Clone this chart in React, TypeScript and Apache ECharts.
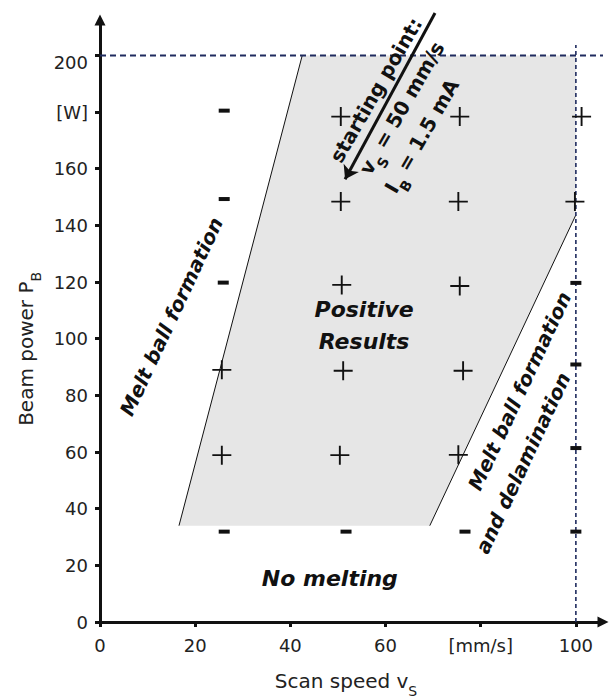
import React, { useEffect, useRef } from "react";
import * as echarts from "echarts";

// ---- axis ticks / labels ----
const xTicks = [0, 20, 40, 60, 80, 100];
const xTickLabels = ["0", "20", "40", "60", "[mm/s]", "100"];
const yTicks = [0, 20, 40, 60, 80, 100, 120, 140, 160, 180, 200];
const yTickLabels = ["0", "20", "40", "60", "80", "100", "120", "140", "160", "[W]", "200"];
const X_MAX = 105.7;
const Y_MAX = 212.5;

// ---- experimental results (scan speed mm/s, beam power W) ----
const plusX = [50.6, 75.6, 101.2, 50.6, 75.3, 99.8, 50.8, 75.6, 25.6, 51.1, 76.3, 25.6, 50.4, 75.3];
const plusY = [178.4, 178.4, 178.4, 148.4, 148.4, 148.4, 119.0, 118.6, 89.0, 88.7, 88.7, 58.9, 58.9, 59.0];
const minusX = [26.1, 26.1, 25.9, 100, 100, 100, 26.1, 51.7, 76.7, 100];
const minusY = [180.5, 149.3, 119.8, 119.7, 90.9, 61.4, 31.9, 31.9, 31.9, 31.9];

// ---- positive-results region ----
const regionX = [16.6, 42.5, 100, 100, 69.3];
const regionY = [34, 200, 200, 143.7, 34];
const leftBoundX = [16.6, 42.5];
const leftBoundY = [34, 200];
const rightBoundX = [69.3, 100];
const rightBoundY = [34, 143.7];

// ---- limits (dashed) ----
const powerLimit = 200;
const speedLimit = 100;
const hLimitX = [0, 105.7];
const vLimitY = [0, 203.7];

// ---- starting-point arrow ----
const arrowX = [70.4, 51.5];
const arrowY = [215, 156.3];

// ---- annotations ----
const annText = [
  "Melt ball formation",
  "Melt ball formation",
  "and delamination",
  "starting point:",
  "{t|v}{s|S}{t| = 50 mm/s}",
  "{t|I}{s|B}{t| = 1.5 mA}",
  "Positive\nResults",
  "No melting",
  "{n|Beam power P}{ns|B}",
  "{n|Scan speed v}{ns|S}",
];
const annX = [15.0, 88.2, 88.9, 58.0, 63.4, 67.6, 55.5, 48.3, -15.5, 51.7];
const annY = [107.8, 81.5, 56.1, 187.8, 181.4, 171.5, 104.5, 15.2, 96.4, -20.8];
const annRot = [65, 65, 65, 60, 60, 60, 0, 0, 90, 0];
const annSize = [20, 20, 20, 20, 20, 20, 22, 22, 20, 20];
const annKind = ["bi", "bi", "bi", "b", "b", "b", "bi", "bi", "n", "n"];

const FONT = "DejaVu Sans";
const INK = "#111";
const NAVY = "#1f2b5e";

function buildOption() {
  const plusPath = "path://M9 0h2v9h9v2h-9v9h-2v-9h-9v-2h9z";
  return {
    animation: false,
    backgroundColor: "#fff",
    grid: { left: 100, right: 6, top: 20, bottom: 77, containLabel: false },
    xAxis: {
      type: "value",
      min: 0,
      max: X_MAX,
      splitLine: { show: false },
      axisLine: {
        show: true,
        onZero: false,
        symbol: ["none", "triangle"],
        symbolSize: [11, 11],
        lineStyle: { color: INK, width: 3 },
      },
      axisTick: {
        show: true,
        customValues: xTicks,
        length: 5,
        lineStyle: { color: INK, width: 3 },
      },
      axisLabel: {
        customValues: xTicks,
        margin: 14,
        fontFamily: FONT,
        fontSize: 18,
        color: "#222",
        formatter: (v: number) => {
          const i = xTicks.indexOf(Math.round(v));
          return i >= 0 ? xTickLabels[i] : "";
        },
      },
    },
    yAxis: {
      type: "value",
      min: 0,
      max: Y_MAX,
      splitLine: { show: false },
      axisLine: {
        show: true,
        onZero: false,
        symbol: ["none", "triangle"],
        symbolSize: [11, 11],
        lineStyle: { color: INK, width: 3 },
      },
      axisTick: {
        show: true,
        customValues: yTicks,
        length: 5,
        lineStyle: { color: INK, width: 3 },
      },
      axisLabel: {
        customValues: yTicks,
        margin: 12,
        fontFamily: FONT,
        fontSize: 18,
        color: "#222",
        formatter: (v: number) => {
          const i = yTicks.indexOf(Math.round(v));
          if (i < 0) return "";
          if (yTicks[i] === 200) return "{d|200}";
          return yTickLabels[i];
        },
        rich: {
          d: { fontFamily: FONT, fontSize: 18, color: "#222", padding: [14, 0, 0, 0] },
        },
      },
    },
    series: [
      {
        type: "custom",
        name: "region",
        coordinateSystem: "cartesian2d",
        silent: true,
        z: 1,
        clip: false,
        data: [[regionX[0], regionY[0]]],
        renderItem: (_p: any, api: any) => ({
          type: "polygon",
          shape: { points: regionX.map((x, i) => api.coord([x, regionY[i]])) },
          style: { fill: "#e6e6e6", stroke: "none" },
        }),
      },
      {
        type: "line",
        name: "left boundary",
        symbol: "none",
        z: 2,
        data: leftBoundX.map((x, i) => [x, leftBoundY[i]]),
        lineStyle: { color: INK, width: 1 },
      },
      {
        type: "line",
        name: "right boundary",
        symbol: "none",
        z: 2,
        data: rightBoundX.map((x, i) => [x, rightBoundY[i]]),
        lineStyle: { color: INK, width: 1 },
      },
      {
        type: "line",
        name: "power limit",
        symbol: "none",
        z: 3,
        clip: false,
        data: hLimitX.map((x) => [x, powerLimit]),
        lineStyle: { color: NAVY, width: 2, type: [6, 4] },
      },
      {
        type: "line",
        name: "speed limit",
        symbol: "none",
        z: 3,
        clip: false,
        data: vLimitY.map((y) => [speedLimit, y]),
        lineStyle: { color: NAVY, width: 1.6, type: [4, 3] },
      },
      {
        type: "scatter",
        name: "positive",
        symbol: plusPath,
        symbolSize: 19,
        z: 5,
        clip: false,
        itemStyle: { color: INK, opacity: 1 },
        data: plusX.map((x, i) => [x, plusY[i]]),
      },
      {
        type: "scatter",
        name: "negative",
        symbol: "rect",
        symbolSize: [11, 4],
        z: 5,
        clip: false,
        itemStyle: { color: INK, opacity: 1 },
        data: minusX.map((x, i) => [x, minusY[i]]),
      },
      {
        type: "lines",
        name: "starting point",
        coordinateSystem: "cartesian2d",
        clip: false,
        z: 6,
        symbol: ["none", "arrow"],
        symbolSize: 13,
        lineStyle: { color: INK, width: 3, opacity: 1 },
        data: [{ coords: arrowX.map((x, i) => [x, arrowY[i]]) }],
      },
      {
        type: "custom",
        name: "annotations",
        coordinateSystem: "cartesian2d",
        silent: true,
        clip: false,
        z: 7,
        data: annX.map((x, i) => [x, annY[i]]),
        renderItem: (params: any, api: any) => {
          const i = params.dataIndex;
          const p = api.coord([api.value(0), api.value(1)]);
          const kind = annKind[i];
          const bold = kind !== "n";
          const italic = kind === "bi";
          const size = annSize[i];
          const base = {
            fontFamily: FONT,
            fontSize: size,
            fontWeight: bold ? "bold" : "normal",
            fontStyle: italic ? "italic" : "normal",
            fill: kind === "n" ? "#222" : INK,
          };
          return {
            type: "text",
            x: p[0],
            y: p[1],
            rotation: (annRot[i] * Math.PI) / 180,
            style: {
              ...base,
              text: annText[i],
              align: "center",
              verticalAlign: "middle",
              lineHeight: 32,
              rich: {
                t: { ...base, lineHeight: 26 },
                s: { ...base, fontSize: 14, lineHeight: 36, verticalAlign: "bottom" },
                n: { ...base, lineHeight: 24 },
                ns: { ...base, fontSize: 14, lineHeight: 34, verticalAlign: "bottom" },
              },
            },
          };
        },
      },
    ],
  };
}

export default function App() {
  const ref = useRef<HTMLDivElement>(null);
  useEffect(() => {
    if (!ref.current) return;
    const chart = echarts.init(ref.current, null, { renderer: "svg" });
    chart.setOption(buildOption() as any);
    return () => chart.dispose();
  }, []);
  return (
    <div
      ref={ref}
      style={{ position: "fixed", left: 0, top: 0, width: 609, height: 699, background: "#fff" }}
    />
  );
}
